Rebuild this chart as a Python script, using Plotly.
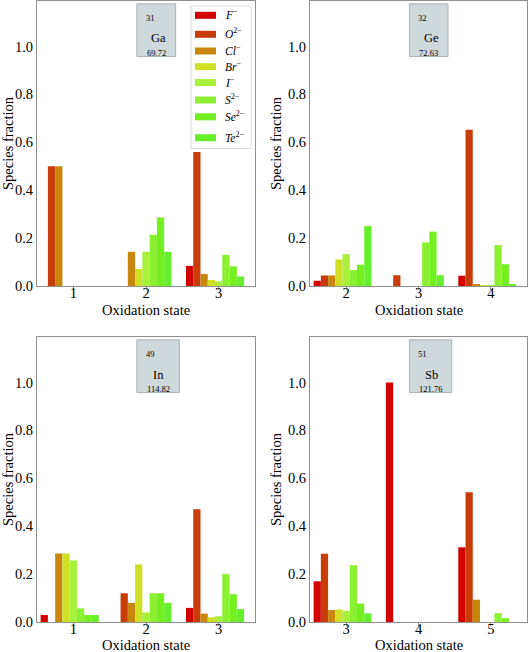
import plotly.graph_objects as go

# ---------------- data ----------------
SPECIES = ["<i>F</i><sup>−</sup>", "<i>O</i><sup>2−</sup>", "<i>Cl</i><sup>−</sup>", "<i>Br</i><sup>−</sup>",
           "<i>I</i><sup>−</sup>", "<i>S</i><sup>2−</sup>", "<i>Se</i><sup>2−</sup>", "<i>Te</i><sup>2−</sup>"]
COLORS = ["#d20202", "#c83c08", "#c8860c", "#d0e024", "#a8f03c", "#8cf032", "#74f020", "#66f02c"]

GA_OX = [1, 2, 3]
GA_VALUES = [
    [0.0, 0.0, 0.084],
    [0.5, 0.0, 0.56],
    [0.5, 0.143, 0.05],
    [0.0, 0.071, 0.025],
    [0.0, 0.143, 0.02],
    [0.0, 0.214, 0.13],
    [0.0, 0.286, 0.082],
    [0.0, 0.143, 0.04],
]
GE_OX = [2, 3, 4]
GE_VALUES = [
    [0.022, 0.0, 0.043],
    [0.044, 0.045, 0.652],
    [0.044, 0.0, 0.006],
    [0.111, 0.0, 0.004],
    [0.133, 0.0, 0.002],
    [0.067, 0.182, 0.171],
    [0.089, 0.227, 0.091],
    [0.25, 0.045, 0.006],
]
IN_OX = [1, 2, 3]
IN_VALUES = [
    [0.029, 0.0, 0.059],
    [0.0, 0.12, 0.471],
    [0.286, 0.08, 0.035],
    [0.286, 0.24, 0.02],
    [0.257, 0.04, 0.024],
    [0.057, 0.12, 0.2],
    [0.029, 0.12, 0.116],
    [0.029, 0.08, 0.054],
]
SB_OX = [3, 4, 5]
SB_VALUES = [
    [0.17, 1.0, 0.312],
    [0.285, 0.0, 0.542],
    [0.05, 0.0, 0.093],
    [0.052, 0.0, 0.0],
    [0.047, 0.0, 0.0],
    [0.237, 0.0, 0.037],
    [0.077, 0.0, 0.016],
    [0.036, 0.0, 0.0],
]
ELEMENTS = [("31", "Ga", "69.72"), ("32", "Ge", "72.63"), ("49", "In", "114.82"), ("51", "Sb", "121.76")]
PANELS = [(GA_OX, GA_VALUES), (GE_OX, GE_VALUES), (IN_OX, IN_VALUES), (SB_OX, SB_VALUES)]
Y_TICKS = [0, 0.2, 0.4, 0.6, 0.8, 1.0]

# ---------------- layout ----------------
W, H = 529, 652
XDOM = [[37 / W, 255 / W], [310 / W, 527 / W]]
YDOM = [[1 - 286 / H, 1 - 1 / H], [1 - 622 / H, 1 - 337 / H]]
XTITLE_Y = [310, 644.5]        # pixel centre of "Oxidation state" per row
FONT = "'Liberation Serif', 'Times New Roman', serif"
FRAME = "#8f8f8f"
TFS = 14.5

fig = go.Figure()
layout = dict(
    width=W, height=H, margin=dict(l=0, r=0, t=0, b=0, autoexpand=False),
    paper_bgcolor="white", plot_bgcolor="white",
    font=dict(family=FONT, size=14, color="black"),
    barmode="overlay", showlegend=False,
)
annotations = []
shapes = []

for p, (ox, vals) in enumerate(PANELS):
    r, c = divmod(p, 2)
    sfx = "" if p == 0 else str(p + 1)
    xa, ya = "x" + sfx, "y" + sfx
    layout["xaxis" + sfx] = dict(
        domain=XDOM[c], anchor=ya, range=[min(ox) - 0.5, max(ox) + 0.5], automargin=False,
        tickvals=ox, ticktext=[str(v) for v in ox], ticks="outside", ticklen=3, tickcolor=FRAME,
        ticklabelstandoff=-9,
        showline=True, linecolor=FRAME, mirror=True, showgrid=False, zeroline=False,
        tickfont=dict(size=TFS),
    )
    layout["yaxis" + sfx] = dict(
        domain=YDOM[r], anchor=xa, range=[0, 1.19], automargin=False,
        tickvals=Y_TICKS, tickformat=".1f", ticks="",
        showline=True, linecolor=FRAME, mirror=True, showgrid=False, zeroline=False,
        tickfont=dict(size=TFS), title=dict(text="Species fraction", font=dict(size=TFS), standoff=2),
    )
    annotations.append(dict(xref=xa + " domain", yref="paper", x=0.5, y=1 - XTITLE_Y[r] / H,
                            xanchor="center", yanchor="middle", text="Oxidation state",
                            showarrow=False, font=dict(size=TFS)))
    for i, name in enumerate(SPECIES):
        fig.add_trace(go.Bar(
            x=ox, y=vals[i], name=name, xaxis=xa, yaxis=ya,
            width=0.1, offset=(i - 4) * 0.1 - 0.05,
            marker=dict(color=COLORS[i], line=dict(width=0)),
            showlegend=False,
        ))
    # element box
    num, sym, mass = ELEMENTS[p]
    x1 = 0.636 if len(mass) <= 5 else 0.653
    shapes.append(dict(type="rect", xref=xa + " domain", yref=ya + " domain",
                       x0=0.458, x1=x1, y0=0.805, y1=0.99,
                       fillcolor="#cfd8db", line=dict(color="#aab4b8", width=1)))
    annotations.append(dict(xref=xa + " domain", yref=ya + " domain", x=0.52, y=0.966,
                            text=num, showarrow=False, font=dict(size=8.5)))
    annotations.append(dict(xref=xa + " domain", yref=ya + " domain", x=0.558, y=0.9,
                            text=sym, showarrow=False, font=dict(size=12.5)))
    annotations.append(dict(xref=xa + " domain", yref=ya + " domain",
                            x=0.546 if len(mass) <= 5 else 0.556, y=0.841,
                            text=mass, showarrow=False, font=dict(size=8.5)))

# legend (drawn in the first panel, as in the reference)
LEG_Y = [15.3, 34.3, 51.0, 66.7, 82.5, 100.0, 116.8, 137.7]
shapes.append(dict(type="rect", xref="paper", yref="paper",
                   x0=191 / W, x1=251 / W, y0=1 - 148.5 / H, y1=1 - 6 / H,
                   fillcolor="white", line=dict(color="#dcdcdc", width=1), layer="above"))
for i, name in enumerate(SPECIES):
    yc = LEG_Y[i]
    shapes.append(dict(type="rect", xref="paper", yref="paper",
                       x0=195 / W, x1=216 / W, y0=1 - (yc + 3.5) / H, y1=1 - (yc - 3.5) / H,
                       fillcolor=COLORS[i], line=dict(width=0), layer="above"))
    annotations.append(dict(xref="paper", yref="paper", x=223 / W, y=1 - (yc - 1) / H,
                            xanchor="left", yanchor="middle", text=name, showarrow=False,
                            font=dict(size=11.5)))

layout["annotations"] = annotations
layout["shapes"] = shapes
fig.update_layout(**layout)
fig.write_html("out.html", config={"displayModeBar": False},
               post_script="document.body.style.margin='0';document.body.style.overflow='hidden';")
